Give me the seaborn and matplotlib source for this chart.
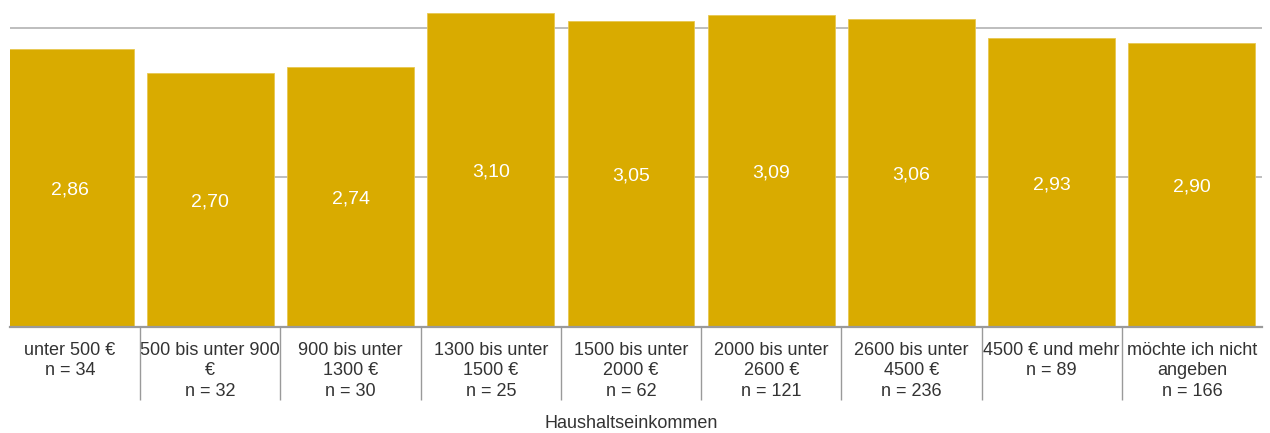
import matplotlib
matplotlib.use("Agg")
import matplotlib.pyplot as plt
import seaborn as sns
import pandas as pd

# Haushaltseinkommen categories (wrapped as they appear on the axis)
categories = [
    "unter 500 €",
    "500 bis unter 900\n€",
    "900 bis unter\n1300 €",
    "1300 bis unter\n1500 €",
    "1500 bis unter\n2000 €",
    "2000 bis unter\n2600 €",
    "2600 bis unter\n4500 €",
    "4500 € und mehr",
    "möchte ich nicht\nangeben",
]
n_values = [34, 32, 30, 25, 62, 121, 236, 89, 166]
means = [2.86, 2.70, 2.74, 3.10, 3.05, 3.09, 3.06, 2.93, 2.90]

tick_labels = [f"{c}\nn = {n}" for c, n in zip(categories, n_values)]
df = pd.DataFrame({"Kategorie": tick_labels, "Mittelwert": means})

sns.set_theme(style="white")
plt.rcParams["font.family"] = ["Liberation Sans", "DejaVu Sans"]

W, H = 1270, 433
fig = plt.figure(figsize=(W / 100, H / 100), dpi=100)
left_px, right_px, base_px = 10, 1262, 326.5
ax = fig.add_axes([left_px / W, (H - base_px) / H, (right_px - left_px) / W, base_px / H])

bar_color = "#D9AB00"
sns.barplot(data=df, x="Kategorie", y="Mittelwert", color=bar_color,
            saturation=1, width=0.905, edgecolor="#E8C850", linewidth=0.6,
            ax=ax, zorder=3)

# category slots are 140.2 px wide; the plot starts 10 px into the first slot
slot = right_px / len(means)
ax.set_xlim(-0.5 + left_px / slot, len(means) - 0.5)
ymin = 1.0
ymax = 3.0 + 28 / 149.3
ax.set_ylim(ymin, ymax)

# horizontal gridlines
for gy in [2, 3]:
    ax.axhline(gy, color="#b3b3b3", linewidth=1.2, zorder=1)

for s in ["top", "left", "right"]:
    ax.spines[s].set_visible(False)
ax.spines["bottom"].set_color("#9a9a9a")
ax.spines["bottom"].set_linewidth(1.6)
ax.spines["bottom"].set_zorder(4)

ax.set_yticks([])
ax.set_ylabel("")
ax.tick_params(axis="x", length=0, pad=11, labelsize=13, labelcolor="#333333")
for t in ax.get_xticklabels():
    t.set_linespacing(1.27)
    t.set_verticalalignment("top")

# separators between categories below the axis
sep_x = [i + 0.5 for i in range(len(means) - 1)]
ax.vlines(sep_x, 0, -(400 - base_px) / base_px, transform=ax.get_xaxis_transform(),
          colors="#9a9a9a", linewidth=1.0, clip_on=False)

# value labels centred inside the bars
for i, v in enumerate(means):
    ax.text(i, (ymin + v) / 2 - 0.015, f"{v:.2f}".replace(".", ","), ha="center",
            va="center", color="white", fontsize=14, zorder=5)

ax.set_xlabel("")
fig.text(right_px / 2 / W, 1 - 423 / H, "Haushaltseinkommen", ha="center",
         va="center", fontsize=13, color="#333333")

fig.savefig("out.png", dpi=100)
